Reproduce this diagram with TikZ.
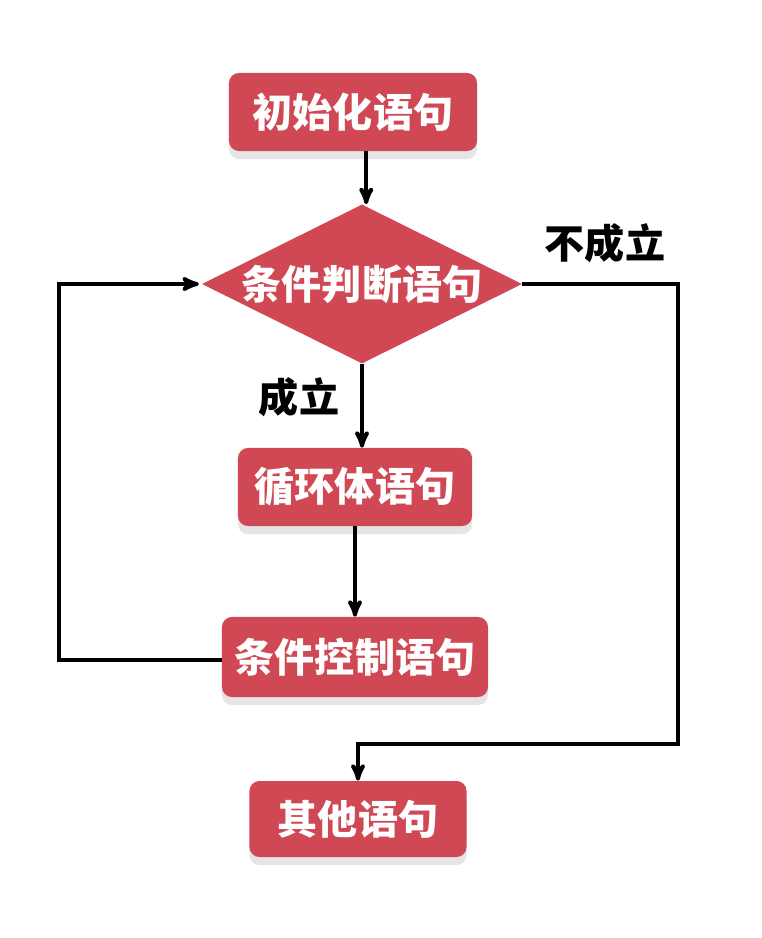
\documentclass[tikz,border=0pt]{standalone}
\usepackage{fontspec}
\newfontfamily\cjk{Noto Sans CJK SC}
\usetikzlibrary{arrows}
\usetikzlibrary{shapes.geometric}
\usetikzlibrary{shadows}
\definecolor{boxred}{RGB}{208,72,84}

\begin{document}
\begin{tikzpicture}[font=\cjk\bfseries\fontsize{28.5}{32}\selectfont,
>=stealth',
x=0.025cm, y=-0.025cm,
stmt/.style={fill=boxred, text=white, rounded corners=0.25cm, inner sep=0pt,
  drop shadow={shadow xshift=0pt, shadow yshift=-0.2cm, fill=black!10, opacity=1}},
cond/.style={diamond, fill=boxred, text=white, inner sep=0pt, aspect=2,
  minimum width=8.0cm, minimum height=3.95cm},
lbl/.style={text=black}]
\tikzstyle{ar} = [->, line width=2.8pt]
\useasboundingbox (0,0) rectangle (761,938);

\node[stmt, minimum width=6.2cm, minimum height=1.95cm] (init) at (353,112) {初始化语句};
\node[cond] (dia) at (362,284) {条件判断语句};
\node[stmt, minimum width=5.85cm, minimum height=1.95cm] (body) at (355,487) {循环体语句};
\node[stmt, minimum width=6.65cm, minimum height=2.0cm] (ctrl) at (355,657) {条件控制语句};
\node[stmt, minimum width=5.425cm, minimum height=1.9cm] (other) at (358,819) {其他语句};

\node[lbl] (no) at (605,243) {不成立};
\node[lbl] (yes) at (299,397) {成立};

\coordinate (lc) at (59,661);
\coordinate (rb) at (678,744);

\draw[ar] ([xshift=3pt]init.south -| dia.north) -- ([xshift=3pt]dia.north);
\draw[ar] (dia.south) -- (dia.south |- body.north);
\draw[ar] (body.south) -- (ctrl.north);
\draw[ar] ([yshift=-2pt]ctrl.west) -- ([yshift=-2pt]ctrl.west -| lc) |- ([xshift=-2pt]dia.west);
\draw[ar] (dia.east) -| (rb) -| (other.north);

\end{tikzpicture}
\end{document}
